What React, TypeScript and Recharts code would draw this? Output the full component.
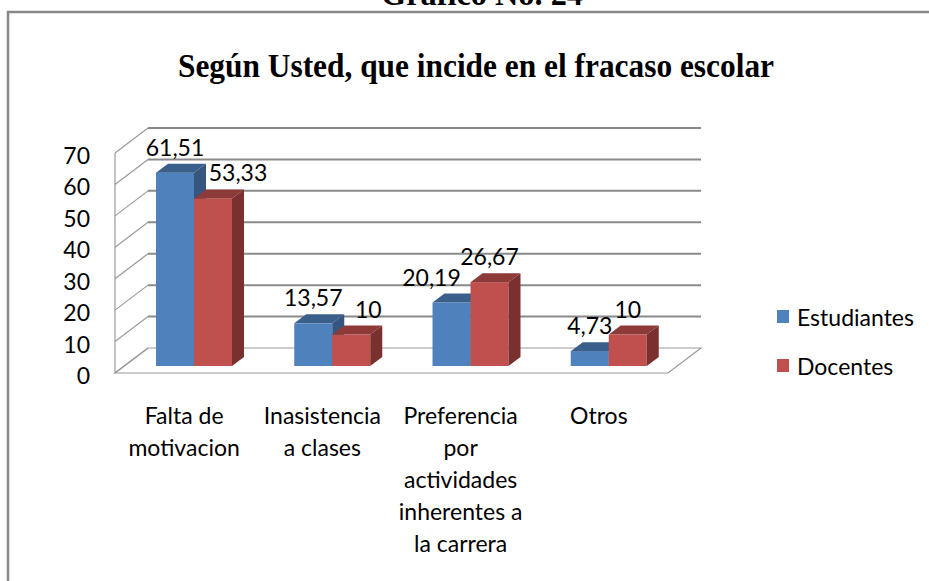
import { Bar, BarChart, CartesianGrid, LabelList, XAxis, YAxis } from 'recharts'

const categories = [
  'Falta de\nmotivacion',
  'Inasistencia\na clases',
  'Preferencia\npor\nactividades\ninherentes a\nla carrera',
  'Otros',
]
const estudiantes = [61.51, 13.57, 20.19, 4.73]
const docentes = [53.33, 10, 26.67, 10]
const yTicks = [0, 10, 20, 30, 40, 50, 60, 70]
const seriesNames = ['Estudiantes', 'Docentes']

const data = categories.map((cat, i) => ({ cat, est: estudiantes[i], doc: docentes[i] }))

const FONT = 'Lato, "Open Sans", sans-serif'
const TXT = 23
// 3D offsets, relative to the plane the bars stand in
const FRONT = { dx: -10, dy: 7 }
const BACK = { dx: 23, dy: -18 }
const DEPTH = { dx: 12, dy: -9 }

const BLUE = { front: '#4F81BD', top: '#3A5F8B', side: '#37567F' }
const RED = { front: '#C0504D', top: '#8D3A38', side: '#7A302E' }

// the original had a few labels dragged sideways
const labelNudge: Record<string, number[]> = { est: [0, 0, -20, 0], doc: [25, 17, 0, 0] }

function Box3D(props: any) {
  const { x, y, width: w, height: h, colors } = props
  if (w == null || h == null) return null
  const { dx, dy } = DEPTH
  return (
    <g>
      <rect x={x} y={y} width={w} height={h} fill={colors.front} />
      <polygon points={`${x},${y} ${x + dx},${y + dy} ${x + w + dx},${y + dy} ${x + w},${y}`} fill={colors.top} />
      <polygon
        points={`${x + w},${y} ${x + w + dx},${y + dy} ${x + w + dx},${y + h + dy} ${x + w},${y + h}`}
        fill={colors.side}
      />
    </g>
  )
}

function gridLine(props: any) {
  const { x1, x2, y1, index } = props
  const bottom = props.height != null ? props.y + props.height : null
  const isFloor = bottom != null ? Math.abs(y1 - bottom) < 1 : index === 0
  const fx = x1 + FRONT.dx
  const fy = y1 + FRONT.dy
  const bx = x1 + BACK.dx
  const by = y1 + BACK.dy
  return (
    <g key={`grid-${index}`}>
      <line x1={fx} y1={fy} x2={bx} y2={by} stroke="#9a9a9a" strokeWidth={1.2} />
      {isFloor ? (
        <g fill="none" stroke="#9a9a9a" strokeWidth={1.2}>
          <polygon points={`${fx},${fy} ${x2 + FRONT.dx},${fy} ${x2 + BACK.dx},${by} ${bx},${by}`} />
          <line x1={fx} y1={fy} x2={fx} y2={props.y + FRONT.dy} />
        </g>
      ) : (
        <line x1={bx} y1={by} x2={x2 + BACK.dx} y2={by} stroke="#8a8a8a" strokeWidth={2} />
      )}
    </g>
  )
}

function YTick(props: any) {
  const { y, payload } = props
  return (
    <text x={90} y={y + FRONT.dy + 2} textAnchor="end" dominantBaseline="central" fontSize={TXT} fontFamily={FONT} fill="#000">
      {payload.value}
    </text>
  )
}

function XTick(props: any) {
  const { x, payload } = props
  const lines = String(payload.value).split('\n')
  return (
    <text textAnchor="middle" dominantBaseline="central" fontSize={TXT} fontFamily={FONT} fill="#000">
      {lines.map((l, i) => (
        <tspan key={i} x={x + FRONT.dx} y={415 + i * 32}>
          {l}
        </tspan>
      ))}
    </text>
  )
}

const makeLabel = (key: string) => (p: any) => {
  const { x, y, width, value, index } = p
  return (
    <text
      x={Number(x) + Number(width) / 2 + labelNudge[key][index]}
      y={Number(y) - 26}
      textAnchor="middle"
      dominantBaseline="central"
      fontSize={TXT}
      fontFamily={FONT}
      fill="#000"
    >
      {String(value).replace('.', ',')}
    </text>
  )
}

export default function App() {
  const legendColors = [BLUE.front, RED.front]
  return (
    <div style={{ position: 'absolute', left: 0, top: 0, width: 929, height: 581, background: '#fff', overflow: 'hidden' }}>
      <svg width={929} height={581} style={{ position: 'absolute', left: 0, top: 0 }}>
        <text x={381} y={5} textLength={202} lengthAdjust="spacingAndGlyphs" fontFamily="'Liberation Serif', serif" fontWeight="bold" fontSize={34}>
          Gráfico No. 24
        </text>
        <line x1={7} y1={12} x2={929} y2={12} stroke="#888" strokeWidth={2.5} />
        <line x1={8} y1={11} x2={8} y2={581} stroke="#888" strokeWidth={2.5} />
        <text x={178} y={77} textLength={596} lengthAdjust="spacingAndGlyphs" fontFamily="'Liberation Serif', serif" fontWeight="bold" fontSize={34}>
          Según Usted, que incide en el fracaso escolar
        </text>
        {seriesNames.map((name, i) => (
          <g key={name}>
            <rect x={777} y={310 + i * 49} width={12} height={13} fill={legendColors[i]} />
            <text x={797} y={317 + i * 49} dominantBaseline="central" fontSize={TXT} fontFamily={FONT} fill="#000">
              {name}
            </text>
          </g>
        ))}
      </svg>
      <div style={{ position: 'absolute', left: 0, top: 0 }}>
        <BarChart width={929} height={581} data={data} margin={{ top: 146, right: 251, bottom: 185, left: 65 }} barGap={0} barSize={38}>
          <CartesianGrid vertical={false} horizontal={gridLine} />
          <XAxis dataKey="cat" height={30} axisLine={false} tickLine={false} tick={<XTick />} interval={0} />
          <YAxis width={60} domain={[0, 70]} ticks={yTicks} axisLine={false} tickLine={false} tick={<YTick />} interval={0} />
          <Bar dataKey="est" name={seriesNames[0]} isAnimationActive={false} shape={(p: any) => <Box3D {...p} colors={BLUE} />}>
            <LabelList dataKey="est" content={makeLabel('est')} />
          </Bar>
          <Bar dataKey="doc" name={seriesNames[1]} isAnimationActive={false} shape={(p: any) => <Box3D {...p} colors={RED} />}>
            <LabelList dataKey="doc" content={makeLabel('doc')} />
          </Bar>
        </BarChart>
      </div>
    </div>
  )
}
